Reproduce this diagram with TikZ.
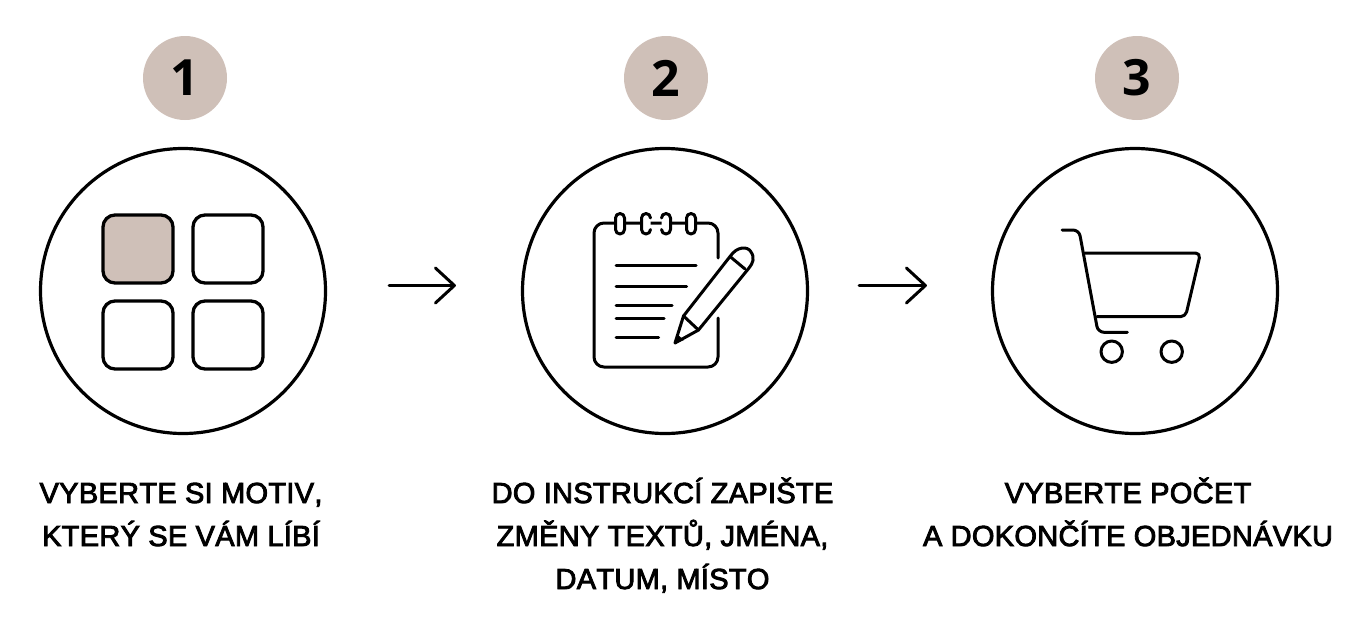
\documentclass[tikz,border=0pt]{standalone}
\usepackage{fontspec}
\setmainfont{Liberation Sans}
\newfontfamily\labelfont[FakeBold=3,LetterSpace=1.0,Kerning=Off]{Liberation Sans}
\newfontfamily\digitfont{Open Sans}
\usetikzlibrary{arrows.meta}
\definecolor{taupe}{HTML}{CFC0B8}
\tikzset{
  numdot/.style={circle,fill=taupe,minimum size=84pt,inner sep=0pt,font=\digitfont\fontsize{50}{50}\selectfont\bfseries},
  bigring/.style={circle,draw,line width=3.2pt,minimum size=285pt,inner sep=0pt},
  steptext/.style={align=center,anchor=base,font=\labelfont\fontsize{29}{43}\selectfont},
  icon/.style={line width=3pt,line cap=round,line join=round},
  tile/.style={line width=3.3pt,rounded corners=12pt},
  steparrow/.style={line width=3pt,line cap=round,-{Straight Barb[length=19pt,width=35pt,line width=3pt,round]}}
}
\begin{document}
\begin{tikzpicture}[x=1pt,y=-1pt]
\useasboundingbox (0,0) rectangle (1364,624);

\node[numdot] (num1) at (185,78) {1};
\node[numdot] (num2) at (666,78) {2};
\node[numdot] (num3) at (1137,78) {3};

\node[bigring] (ring1) at (183,291) {};
\node[bigring] (ring2) at (665,291) {};
\node[bigring] (ring3) at (1135,291) {};

\draw[steparrow,shorten <=62pt,shorten >=65pt] ([yshift=5.5pt]ring1.east) -- ([yshift=5.5pt]ring2.west);
\draw[steparrow,shorten <=50pt,shorten >=64pt] ([yshift=5.5pt]ring2.east) -- ([yshift=5.5pt]ring3.west);

\node[steptext] (text1) at (181,546) {VYBERTE SI MOTIV,\\KTERÝ SE VÁM LÍBÍ};
\node[steptext] (text2) at (662.5,589) {DO INSTRUKCÍ ZAPIŠTE\\ZMĚNY TEXTŮ, JMÉNA,\\DATUM, MÍSTO};
\node[steptext] (text3) at (1128,546) {VYBERTE POČET\\A DOKONČÍTE OBJEDNÁVKU};

\draw[tile,fill=taupe] (103,215) rectangle (173,283);
\draw[tile] (193,215) rectangle (263,283);
\draw[tile] (103,301) rectangle (173,369);
\draw[tile] (193,301) rectangle (263,369);

\draw[icon,rounded corners=10pt] (718,258) -- (718,223) -- (594,223) -- (594,367) -- (718,367) -- (718,318);
\foreach \x in {620,691} {
  \draw[icon,fill=white] (\x+4.5,218) arc (0:-180:4.5) -- (\x-4.5,229.5) arc (180:0:4.5) -- cycle;
}
\draw[icon,fill=white] (650.5,218) arc (0:-180:4.5) -- (641.5,229.5) arc (180:0:4.5);
\draw[icon,fill=white] (661.5,218) arc (180:360:4.5) -- (670.5,229.5) arc (0:180:4.5);
\foreach \y/\xe in {265.3/696,286.7/686.5,305.3/672,318/664,337.7/658.5} {
  \draw[icon] (616,\y) -- (\xe,\y);
}

\draw[icon] (683.5,316) -- (730,256.5) .. controls (737,246) and (748,246) .. (751,252) .. controls (755,258) and (753,263) .. (749,268) -- (698.5,330) -- (675,343) -- cycle;
\draw[icon] (730,256.5) -- (745,269);
\draw[icon] (683.5,316) -- (698.5,330);
\fill (675,343.5) -- (678,335) -- (684,340) -- cycle;

\draw[icon,rounded corners=6pt] (1062,230) -- (1079,230) -- (1098,332.3) -- (1127.3,332.3);
\draw[icon,rounded corners=5pt] (1085,253) -- (1200.5,253) -- (1185.5,316.7) -- (1097,316.7);
\draw[icon] (1111.7,351.7) circle (10.7);
\draw[icon] (1171.7,351.7) circle (10.7);
\end{tikzpicture}
\end{document}
